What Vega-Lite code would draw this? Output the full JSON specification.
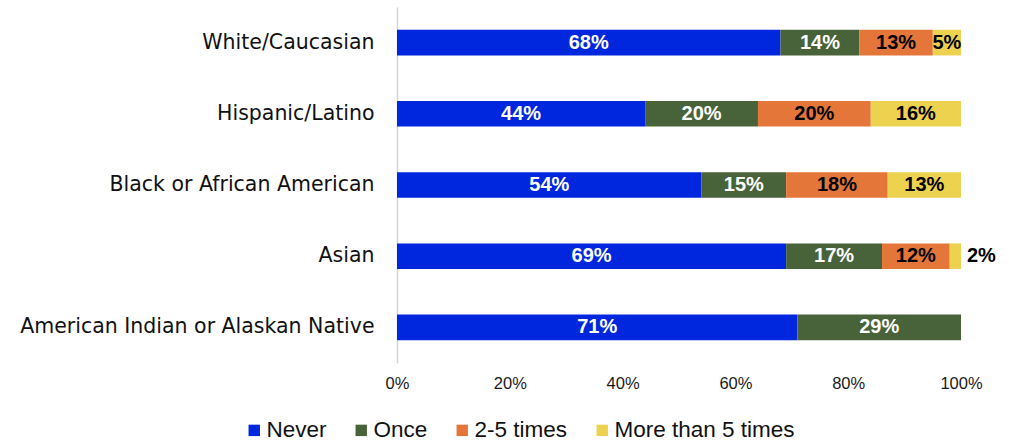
{
  "$schema": "https://vega.github.io/schema/vega-lite/v6.json",
  "width": 564,
  "height": 356,
  "autosize": {"type": "none"},
  "padding": {"left": 397, "top": 7, "right": 48, "bottom": 79},
  "background": "white",
  "config": {"view": {"stroke": null}, "font": "Liberation Sans, Arial, sans-serif"},
  "data": {
    "values": [
      {"group": "White/Caucasian", "response": "Never", "pct": 68},
      {"group": "White/Caucasian", "response": "Once", "pct": 14},
      {"group": "White/Caucasian", "response": "2-5 times", "pct": 13},
      {"group": "White/Caucasian", "response": "More than 5 times", "pct": 5},
      {"group": "Hispanic/Latino", "response": "Never", "pct": 44},
      {"group": "Hispanic/Latino", "response": "Once", "pct": 20},
      {"group": "Hispanic/Latino", "response": "2-5 times", "pct": 20},
      {"group": "Hispanic/Latino", "response": "More than 5 times", "pct": 16},
      {"group": "Black or African American", "response": "Never", "pct": 54},
      {"group": "Black or African American", "response": "Once", "pct": 15},
      {"group": "Black or African American", "response": "2-5 times", "pct": 18},
      {"group": "Black or African American", "response": "More than 5 times", "pct": 13},
      {"group": "Asian", "response": "Never", "pct": 69},
      {"group": "Asian", "response": "Once", "pct": 17},
      {"group": "Asian", "response": "2-5 times", "pct": 12},
      {"group": "Asian", "response": "More than 5 times", "pct": 2},
      {"group": "American Indian or Alaskan Native", "response": "Never", "pct": 71},
      {"group": "American Indian or Alaskan Native", "response": "Once", "pct": 29}
    ]
  },
  "transform": [
    {"calculate": "indexof(['Never','Once','2-5 times','More than 5 times'], datum.response)", "as": "k"},
    {"stack": "pct", "groupby": ["group"], "sort": [{"field": "k", "order": "ascending"}], "as": ["x0", "x1"]},
    {"calculate": "(datum.x0 + datum.x1) / 2", "as": "mid"},
    {"calculate": "datum.pct + '%'", "as": "label"}
  ],
  "encoding": {
    "y": {
      "field": "group",
      "type": "nominal",
      "sort": ["White/Caucasian", "Hispanic/Latino", "Black or African American", "Asian", "American Indian or Alaskan Native"],
      "scale": {"paddingInner": 0.64, "paddingOuter": 0.32},
      "axis": {
        "title": null,
        "domain": true,
        "domainColor": "#d4d4d4",
        "domainWidth": 1.5,
        "ticks": false,
        "labelFont": "DejaVu Sans",
        "labelFontSize": 20.5,
        "labelColor": "#111111",
        "labelPadding": 23,
        "labelLimit": 420
      }
    }
  },
  "layer": [
    {
      "mark": {"type": "bar"},
      "encoding": {
        "x": {
          "field": "x0",
          "type": "quantitative",
          "scale": {"domain": [0, 100], "nice": false},
          "axis": {
            "title": null,
            "values": [0, 20, 40, 60, 80, 100],
            "labelExpr": "datum.value + '%'",
            "domain": false,
            "ticks": false,
            "tickSize": 0,
            "grid": false,
            "labelFlush": false,
            "labelFont": "Liberation Sans, Arial, sans-serif",
            "labelFontSize": 16.5,
            "labelColor": "#1a1a1a",
            "labelPadding": 12
          }
        },
        "x2": {"field": "x1"},
        "color": {
          "field": "response",
          "type": "nominal",
          "scale": {
            "domain": ["Never", "Once", "2-5 times", "More than 5 times"],
            "range": ["#0027de", "#48633a", "#e4763a", "#edd24f"]
          },
          "legend": {
            "title": null,
            "orient": "none",
            "legendX": -154,
            "legendY": 412,
            "direction": "horizontal",
            "symbolType": "square",
            "symbolSize": 130,
            "symbolStrokeWidth": 0,
            "labelFont": "Liberation Sans, Arial, sans-serif",
            "labelFontSize": 22.5,
            "labelColor": "#111111",
            "labelOffset": 1,
            "labelLimit": 400,
            "columnPadding": 23,
            "padding": 0
          }
        }
      }
    },
    {
      "transform": [{"filter": "datum.pct >= 4"}],
      "mark": {"type": "text", "font": "Liberation Sans, Arial, sans-serif", "fontWeight": "bold", "fontSize": 20, "baseline": "middle", "align": "center"},
      "encoding": {
        "x": {"field": "mid", "type": "quantitative"},
        "text": {"field": "label"},
        "color": {"condition": {"test": "datum.k < 2", "value": "white"}, "value": "black"}
      }
    },
    {
      "transform": [{"filter": "datum.pct < 4"}],
      "mark": {"type": "text", "font": "Liberation Sans, Arial, sans-serif", "fontWeight": "bold", "fontSize": 20, "baseline": "middle", "align": "left", "dx": 6, "color": "black"},
      "encoding": {
        "x": {"field": "x1", "type": "quantitative"},
        "text": {"field": "label"}
      }
    }
  ]
}
